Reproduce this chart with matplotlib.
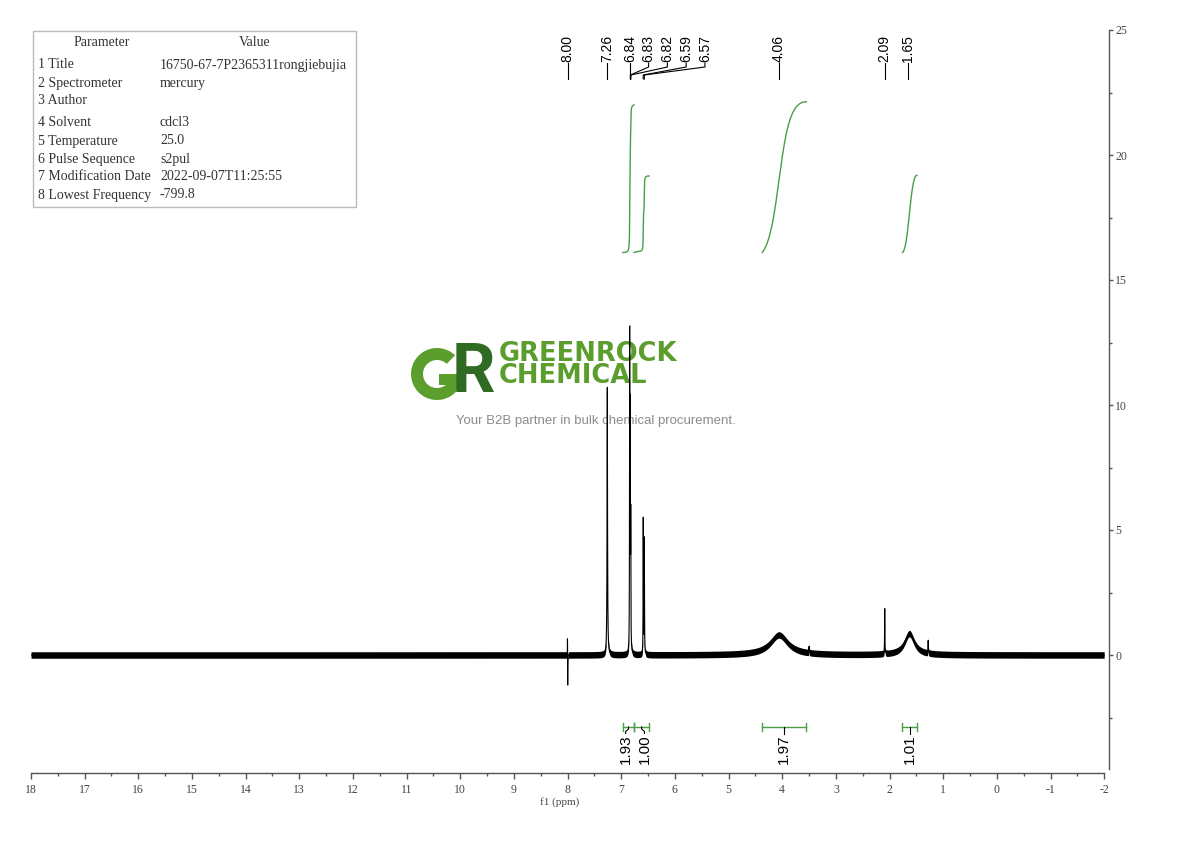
import numpy as np
import matplotlib
matplotlib.use('Agg')
import matplotlib.pyplot as plt
from matplotlib.patches import Rectangle, Wedge
from matplotlib.transforms import IdentityTransform
from matplotlib.ticker import FixedLocator

plt.rcParams['axes.unicode_minus'] = False
plt.rcParams['font.family'] = ['Liberation Serif', 'DejaVu Serif']

# ---------------- data ----------------
peak_ppm    = [8.002, 7.998, 7.26, 6.843, 6.833, 6.823, 6.59, 6.57, 4.06, 3.50, 2.09, 1.63, 1.28]
peak_height = [0.8, -1.3, 10.7, 12.3, 9.0, 5.0, 5.4, 4.6, 0.8, 0.25, 1.8, 0.85, 0.5]
peak_hwhm   = [0.0015, 0.0015, 0.005, 0.003, 0.003, 0.003, 0.003, 0.003, 0.2, 0.003, 0.003, 0.11, 0.003]
noise_half  = 0.13

label_ppm = [8.00, 7.26, 6.84, 6.83, 6.82, 6.59, 6.57, 4.06, 2.09, 1.65]

int_start  = [6.97, 6.76, 4.37, 1.76]
int_end    = [6.76, 6.48, 3.55, 1.49]
int_values = [1.93, 1.00, 1.97, 1.01]

param_names  = ['1 Title', '2 Spectrometer', '3 Author', '4 Solvent', '5 Temperature',
                '6 Pulse Sequence', '7 Modification Date', '8 Lowest Frequency']
param_values = ['16750-67-7P2365311rongjiebujia', 'mercury', '', 'cdcl3', '25.0',
                's2pul', '2022-09-07T11:25:55', '-799.8']

x_ticks = list(range(-2, 19))
y_ticks = [0, 5, 10, 15, 20, 25]

# ---------------- figure ----------------
W, H = 1190, 841
fig = plt.figure(figsize=(W / 100, H / 100), dpi=100)
fx = lambda px: px / W
fy = lambda py: 1 - py / H
ax = fig.add_axes([fx(31), fy(773), 1078 / W, 743 / H])
ax.set_xlim(18, -2.09)
ax.set_ylim(-4.72, 25.0)

# spectrum (Lorentzian lines at the read peak positions)
x = np.linspace(18, -2, 200001)
y = np.zeros_like(x)
for p, h, w in zip(peak_ppm, peak_height, peak_hwhm):
    y += h / (1 + ((x - p) / w) ** 2)
ax.fill_between(x, y - noise_half, y + noise_half, color='black', lw=0, zorder=3)
ax.plot(x, y, color='black', lw=0.8, zorder=4)

# integral curves
green = '#4a9e46'
int_base, int_scale = 16.1, 3.06
for s, e, v in zip(int_start, int_end, int_values):
    m = (x <= s) & (x >= e)
    cs = np.cumsum(y[m] - y[m].min())
    ax.plot(x[m], int_base + v * int_scale * cs / cs[-1], color=green, lw=1.0, zorder=3)

# integral bars & labels
bar_y = -2.88
mids = [(s + e) / 2 for s, e in zip(int_start, int_end)]
lab_x = list(mids)
sp = 0.35
i = 0
while i < len(mids):
    j = i
    while j + 1 < len(mids) and mids[j] - mids[j + 1] < sp:
        j += 1
    n = j - i + 1
    c = np.mean(mids[i:j + 1])
    for k in range(n):
        lab_x[i + k] = c + sp * ((n - 1) / 2 - k)
    i = j + 1
for s, e, v, mx, lx in zip(int_start, int_end, int_values, mids, lab_x):
    ax.plot([s, e], [bar_y, bar_y], color=green, lw=1.0, zorder=3)
    for xe in (s, e):
        ax.plot([xe, xe], [bar_y - 0.16, bar_y + 0.16], color=green, lw=1.0, zorder=3)
    ax.plot([mx, mx, lx, lx], [bar_y, bar_y - 0.08, bar_y - 0.18, bar_y - 0.26],
            color='black', lw=0.8, zorder=3)
    ax.text(lx, bar_y - 0.28, f'{v:.2f}', rotation=90, ha='center', va='top',
            fontsize=11, family=['Liberation Sans', 'DejaVu Sans'], color='black')

# peak labels on top
lab_pos = []
for p in label_ppm:
    if lab_pos:
        lab_pos.append(min(p, lab_pos[-1] - sp))
    else:
        lab_pos.append(p)
t_bot, b1, b2, b_end = 23.68, 23.52, 23.2, 23.04
for p, lp in zip(label_ppm, lab_pos):
    ax.plot([lp, lp, p, p], [t_bot, b1, b2, b_end], color='black', lw=0.8, zorder=3, clip_on=False)
    ax.text(lp, t_bot + 0.05, f'{p:.2f}', rotation=90, ha='center', va='bottom',
            fontsize=10, family=['Liberation Sans', 'DejaVu Sans'], color='black')

# axes styling
for sname in ('left', 'top'):
    ax.spines[sname].set_visible(False)
ax.spines['bottom'].set_bounds(-2, 18)
ax.spines['right'].set_bounds(-4.56, 25)
for sname in ('bottom', 'right'):
    ax.spines[sname].set_color('#555555')
    ax.spines[sname].set_linewidth(1.0)
ax.yaxis.tick_right()
ax.xaxis.set_major_locator(FixedLocator(x_ticks))
ax.xaxis.set_minor_locator(FixedLocator([t + 0.5 for t in x_ticks[:-1]]))
ax.yaxis.set_major_locator(FixedLocator(y_ticks))
ax.yaxis.set_minor_locator(FixedLocator([t - 2.5 for t in y_ticks]))
ax.set_xticklabels([str(t) for t in x_ticks])
ax.set_yticklabels([str(t) for t in y_ticks])
ax.tick_params(axis='x', which='major', direction='out', length=4, width=1, color='#555555',
               labelsize=8.5, labelcolor='#444444', pad=4)
ax.tick_params(axis='x', which='minor', direction='out', length=2.5, width=1, color='#555555')
ax.tick_params(axis='y', which='major', direction='out', length=3, width=1, color='#555555',
               labelsize=8.5, labelcolor='#444444', pad=1.5)
ax.tick_params(axis='y', which='minor', direction='out', length=2, width=1, color='#555555')
fig.text(fx(560), fy(802), 'f1 (ppm)', ha='center', va='center', fontsize=8, color='#444444')

# parameter table
fig.patches.append(Rectangle((fx(33), fy(207)), (356 - 33) / W, (207 - 31) / H,
                             transform=fig.transFigure, fill=False, edgecolor='#bbbbbb', lw=1.0))
fig.text(fx(102), fy(43), 'Parameter', ha='center', va='center', fontsize=10, color='#333333')
fig.text(fx(255), fy(43), 'Value', ha='center', va='center', fontsize=10, color='#333333')
row_y = [65, 83, 101, 123, 141, 159, 177, 195]
for ry, nm, val in zip(row_y, param_names, param_values):
    fig.text(fx(38), fy(ry), nm, ha='left', va='center', fontsize=10, color='#333333')
    fig.text(fx(160), fy(ry), val, ha='left', va='center', fontsize=10, color='#333333')

# watermark logo (G mark drawn as a ring, in figure pixels)
lg, dg = '#5c9e2e', '#2f6b22'
idt = IdentityTransform()
gcx, gcy = 437, H - 374
ax.add_artist(Wedge((gcx, gcy), 26, 46, 360, width=12, color=lg, transform=idt,
                    clip_on=False, zorder=1, lw=0))
ax.add_artist(Rectangle((gcx + 2, gcy - 11), 24, 11, color=lg, transform=idt,
                        clip_on=False, zorder=1, lw=0))
ax.text(fx(452), fy(392), 'R', ha='left', va='baseline', fontsize=49, color=dg,
        transform=fig.transFigure, zorder=1, family=['Roboto', 'DejaVu Sans'], fontweight='bold')
ax.text(fx(499), fy(365), 'GREENROCK\nCHEMICAL', ha='left', va='center', fontsize=18.5,
        color=lg, linespacing=0.8, transform=fig.transFigure, zorder=1,
        family=['DejaVu Sans'], fontweight='bold')
ax.text(fx(456), fy(421), 'Your B2B partner in bulk chemical procurement.', ha='left', va='center',
        fontsize=9.5, color='#8c8c8c', transform=fig.transFigure, zorder=1,
        family=['Liberation Sans', 'DejaVu Sans'])

fig.savefig('out.png', dpi=100)
